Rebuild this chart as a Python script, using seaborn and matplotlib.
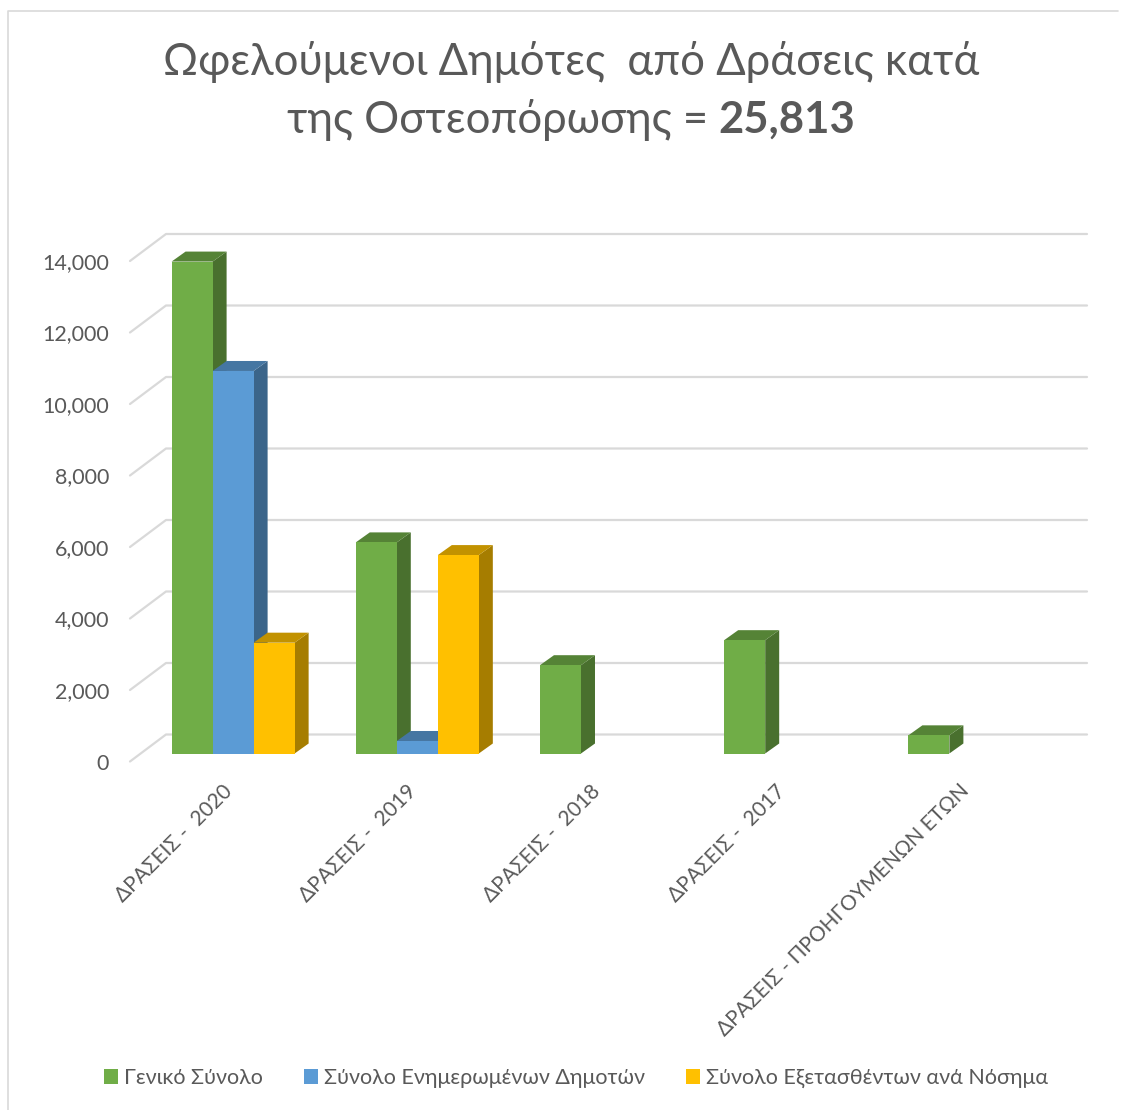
import numpy as np
import pandas as pd
import seaborn as sns
import matplotlib.pyplot as plt
from matplotlib.colors import to_rgb
from matplotlib.lines import Line2D
from matplotlib.patches import Polygon
from matplotlib.transforms import Affine2D, IdentityTransform

categories = ["ΔΡΑΣΕΙΣ -  2020", "ΔΡΑΣΕΙΣ -  2019", "ΔΡΑΣΕΙΣ -  2018", "ΔΡΑΣΕΙΣ -  2017",
              "ΔΡΑΣΕΙΣ - ΠΡΟΗΓΟΥΜΕΝΩΝ ΕΤΩΝ"]
series_names = ["Γενικό Σύνολο", "Σύνολο Ενημερωμένων Δημοτών", "Σύνολο Εξετασθέντων ανά Νόσημα"]
total_vals = [13760, 5905, 2470, 3170, 508]
informed_vals = [10700, 350, np.nan, np.nan, np.nan]
examined_vals = [3100, 5550, np.nan, np.nan, np.nan]
colors = ["#70AD47", "#5B9BD5", "#FFC000"]
y_ticks = [0, 2000, 4000, 6000, 8000, 10000, 12000, 14000]

W, H = 1130, 1110
TXT = "#595959"
GRID = "#D9D9D9"

sns.set_theme(style="white")
plt.rcParams["font.family"] = ["Lato", "Noto Sans", "DejaVu Sans"]

df = pd.DataFrame({"cat": categories, series_names[0]: total_vals,
                   series_names[1]: informed_vals, series_names[2]: examined_vals})
df = df.melt(id_vars="cat", var_name="series", value_name="value")

fig = plt.figure(figsize=(W / 100, H / 100), dpi=100)
ax = fig.add_axes([130 / W, 1 - 761.5 / H, 921 / W, 500.5 / H])
sns.barplot(data=df, x="cat", y="value", hue="series", hue_order=series_names,
            palette=colors, width=0.668, saturation=1, ax=ax, linewidth=0, zorder=3)
ax.set_xlim(-0.5, 4.5)
ax.set_ylim(0, 14000)
ax.set_xlabel("")
ax.set_ylabel("")
sns.despine(ax=ax, left=True, bottom=True)
ax.patch.set_alpha(0)
ax.set_yticks(y_ticks)
ax.set_yticklabels([f"{v:,}" for v in y_ticks], color=TXT, fontsize=15.5)
ax.tick_params(axis="y", length=0, pad=15)
ax.tick_params(axis="x", length=0, pad=14)
for lab in ax.get_xticklabels():
    lab.set_rotation(45)
    lab.set_ha("right")
    lab.set_va("top")
    lab.set_rotation_mode("anchor")
    lab.set_color(TXT)
    lab.set_fontsize(15)

# back wall and the slanted lines on the left side, per tick
wall_dx, wall_dy = 36, 27
for v in y_ticks:
    x0, y0 = ax.transData.transform((-0.5, v))
    x1, y1 = ax.transData.transform((4.5, v))
    ax.add_line(Line2D([x0, x0 + wall_dx, x1 + wall_dx], [y0, y0 + wall_dy, y1 + wall_dy],
                       color=GRID, lw=1.6, transform=IdentityTransform(), clip_on=False, zorder=1))


def shade(c, f):
    return tuple(v * f for v in to_rgb(c))


# bars sit part way into the floor, each one gets a top and a side face
bar_dx, bar_dy = 11, 8
depth_x, depth_y = 14, 10
bars = [p for p in ax.patches if p.get_height() > 0]
bars = sorted(bars, key=lambda p: p.get_x())
for i, p in enumerate(bars):
    c = p.get_facecolor()
    (xa, ya), (xb, yb) = ax.transData.transform([(p.get_x(), 0), (p.get_x() + p.get_width(), p.get_height())])
    xa, xb, ya, yb = xa + bar_dx, xb + bar_dx, ya + bar_dy, yb + bar_dy
    z = 3 + i
    p.set_transform(ax.transData + Affine2D().translate(bar_dx, bar_dy))
    p.set_clip_on(False)
    p.set_zorder(z + 0.5)
    side = [(xb, ya), (xb + depth_x, ya + depth_y), (xb + depth_x, yb + depth_y), (xb, yb)]
    top = [(xa, yb), (xb, yb), (xb + depth_x, yb + depth_y), (xa + depth_x, yb + depth_y)]
    ax.add_patch(Polygon(side, closed=True, fc=shade(c, 0.65), ec="none",
                         transform=IdentityTransform(), clip_on=False, zorder=z))
    ax.add_patch(Polygon(top, closed=True, fc=shade(c, 0.76), ec="none",
                         transform=IdentityTransform(), clip_on=False, zorder=z))

sns.move_legend(ax, "center", bbox_to_anchor=(576 / W, 1 - 1078 / H), bbox_transform=fig.transFigure,
                ncol=3, frameon=False, title=None, fontsize=15.5, handlelength=0.65, handleheight=0.65,
                handletextpad=0.28, columnspacing=1.9, labelcolor=TXT)

# title, second line mixes regular and bold
fig.text(571 / W, 1 - 62 / H, "Ωφελούμενοι Δημότες  από Δράσεις κατά", ha="center", va="center",
         fontsize=31.4, color=TXT)
r = fig.canvas.get_renderer()
t1 = fig.text(0, 1 - 120 / H, "της Οστεοπόρωσης =", va="center", ha="left", fontsize=31.4, color=TXT)
t2 = fig.text(0, 1 - 120 / H, "25,813", va="center", ha="left", fontsize=31.4, color=TXT, fontweight="bold")
w1 = t1.get_window_extent(r).width + 10
w2 = t2.get_window_extent(r).width
start = 571 - (w1 + w2) / 2
t1.set_x(start / W)
t2.set_x((start + w1) / W)

# frame of the pasted screenshot
fig.add_artist(Line2D([8 / W, 8 / W, 1118 / W], [0, 1 - 11 / H, 1 - 11 / H], color=GRID, lw=1.2))

fig.savefig("out.png", dpi=100)
